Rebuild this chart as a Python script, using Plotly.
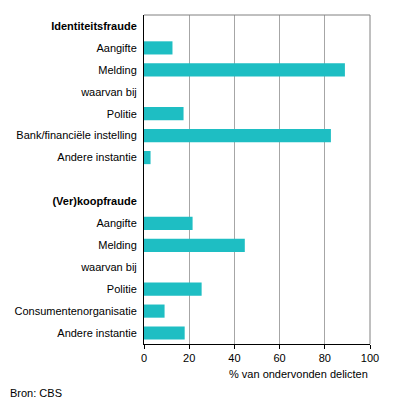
import plotly.graph_objects as go

labels = ["<b>Identiteitsfraude</b>", "Aangifte", "Melding", "waarvan bij", "Politie",
          "Bank/financiële instelling", "Andere instantie", "",
          "<b>(Ver)koopfraude</b>", "Aangifte", "Melding", "waarvan bij", "Politie",
          "Consumentenorganisatie", "Andere instantie"]
values = [None, 12.6, 88.9, None, 17.5, 82.7, 2.9, None,
          None, 21.5, 44.6, None, 25.5, 9.1, 18.0]
x_ticks = [0, 20, 40, 60, 80, 100]

rows = list(range(len(labels)))
font = "Liberation Sans, Arial, sans-serif"

# page body has an 8px default margin, so the figure is sized to compensate
W, H = 388, 394
L, R, T, B = 136, 26, 7, 58
plot_w = W - L - R

fig = go.Figure(go.Bar(
    x=values, y=rows, orientation="h",
    marker=dict(color="#1ebec3", line=dict(width=0)),
    width=0.6,
    hoverinfo="skip",
))

fig.update_layout(
    width=W, height=H,
    margin=dict(l=L, r=R, t=T, b=B),
    paper_bgcolor="white", plot_bgcolor="white",
    font=dict(family=font, size=11, color="black"),
    showlegend=False,
    xaxis=dict(
        range=[0, 100], tickvals=x_ticks, ticktext=[str(v) for v in x_ticks],
        showgrid=True, gridcolor="#a6a6a6", gridwidth=1,
        zeroline=False, showline=True, linecolor="black", linewidth=1,
        ticks="outside", ticklen=4, tickcolor="black",
        automargin=False, fixedrange=True,
    ),
    yaxis=dict(
        range=[14.5, -0.5], tickvals=rows, ticktext=labels,
        showgrid=False, zeroline=False, showline=True, linecolor="black", linewidth=1,
        ticks="outside", ticklen=4, tickcolor="rgba(0,0,0,0)",
        automargin=False, fixedrange=True,
    ),
    shapes=[
        dict(type="line", xref="paper", yref="paper", x0=0, x1=1, y0=1, y1=1,
             line=dict(color="#808080", width=1)),
        dict(type="line", xref="paper", yref="paper", x0=1, x1=1, y0=0, y1=1,
             line=dict(color="#808080", width=1)),
    ],
    annotations=[
        dict(text="% van ondervonden delicten", xref="paper", yref="paper",
             x=1, y=0, yshift=-30, xanchor="right", yanchor="middle",
             showarrow=False, font=dict(size=11)),
        dict(text="Bron: CBS", xref="paper", yref="paper",
             x=-L / plot_w, y=0, yshift=-49, xanchor="left", yanchor="middle",
             showarrow=False, font=dict(size=11)),
    ],
)

fig.write_html("out.html")
